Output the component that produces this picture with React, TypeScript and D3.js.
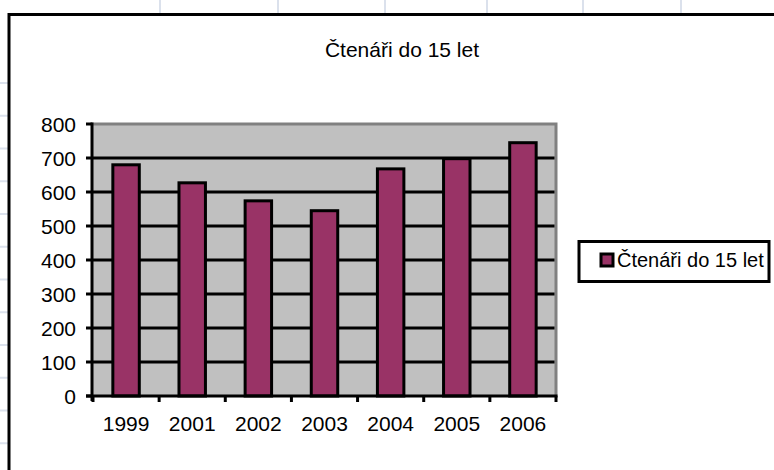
import * as d3 from 'd3';

// chart data
const years = ['1999', '2001', '2002', '2003', '2004', '2005', '2006'];
const readers = [680, 627, 574, 545, 668, 698, 745];
const yTicks = [0, 100, 200, 300, 400, 500, 600, 700, 800];
const chartTitle = 'Čtenáři do 15 let';
const seriesName = 'Čtenáři do 15 let';

const W = 774;
const H = 470;
const FONT = '"Liberation Sans", Arial, sans-serif';

const App = () => {
  const x = d3.scaleBand<string>().domain(years).range([93, 556]).paddingInner(0.6).paddingOuter(0.3);
  const y = d3.scaleLinear().domain([0, 800]).range([396, 124]);
  const step = x.step();
  const plotL = 92;
  const plotR = 556;

  // faint spreadsheet cells behind the chart object
  const sheetCols = [160, 278, 385, 487, 583, 681];
  const sheetRows = d3.range(-1, 12).map((k) => 115.7 + k * 32.76);

  return (
    <svg width={W} height={H} style={{ position: 'fixed', left: 0, top: 0 }} fontFamily={FONT}>
      <rect width={W} height={H} fill="#fff" />
      {sheetCols.map((c) => (
        <line key={'c' + c} x1={c} x2={c} y1={0} y2={H} stroke="#dbe1ec" strokeWidth={2} />
      ))}
      {sheetRows.map((r) => (
        <line key={'r' + r} x1={0} x2={W} y1={r} y2={r} stroke="#dbe1ec" strokeWidth={2} />
      ))}

      {/* chart area */}
      <rect x={9} y={14.5} width={W} height={H} fill="#fff" stroke="#000" strokeWidth={3} />

      <text x={402} y={57} textAnchor="middle" fontSize={21} fill="#000">
        {chartTitle}
      </text>

      {/* plot area */}
      <rect x={plotL} y={y(800)} width={plotR - plotL} height={y(0) - y(800)} fill="#c0c0c0" />
      <polyline
        points={`${plotL},${y(800)} ${plotR},${y(800)} ${plotR},${y(0)}`}
        fill="none"
        stroke="#808080"
        strokeWidth={3}
      />
      {yTicks
        .filter((t) => t > 0 && t < 800)
        .map((t) => (
          <line key={'g' + t} x1={plotL} x2={plotR - 1.5} y1={y(t)} y2={y(t)} stroke="#000" strokeWidth={3} />
        ))}

      {readers.map((v, i) => (
        <rect
          key={years[i]}
          x={x(years[i])}
          y={y(v)}
          width={x.bandwidth()}
          height={y(0) - y(v)}
          fill="#993366"
          stroke="#000"
          strokeWidth={3}
        />
      ))}

      {/* y axis */}
      <line x1={plotL} x2={plotL} y1={y(800) - 1.5} y2={y(0) + 5} stroke="#000" strokeWidth={3} />
      {yTicks.map((t) => (
        <g key={'y' + t}>
          <line x1={plotL - 6} x2={plotL} y1={y(t)} y2={y(t)} stroke="#000" strokeWidth={3} />
          <text x={76} y={y(t)} dy="0.36em" textAnchor="end" fontSize={21} fill="#000">
            {t}
          </text>
        </g>
      ))}

      {/* x axis */}
      <line x1={plotL - 6} x2={plotR + 1.5} y1={y(0)} y2={y(0)} stroke="#000" strokeWidth={3} />
      {d3.range(years.length + 1).map((k) => {
        const tx = x.range()[0] + k * step;
        return <line key={'t' + k} x1={tx} x2={tx} y1={y(0)} y2={y(0) + 6} stroke="#000" strokeWidth={3} />;
      })}
      {years.map((yr) => (
        <text
          key={'l' + yr}
          x={(x(yr) as number) + x.bandwidth() / 2}
          y={431}
          textAnchor="middle"
          fontSize={21}
          fill="#000"
        >
          {yr}
        </text>
      ))}

      {/* legend */}
      <rect x={579} y={241.5} width={190} height={40} fill="#fff" stroke="#000" strokeWidth={3} />
      <rect x={601} y={254} width={12} height={12} fill="#993366" stroke="#000" strokeWidth={3} />
      <text x={617} y={267} fontSize={20} fill="#000">
        {seriesName}
      </text>
    </svg>
  );
};

export default App;
